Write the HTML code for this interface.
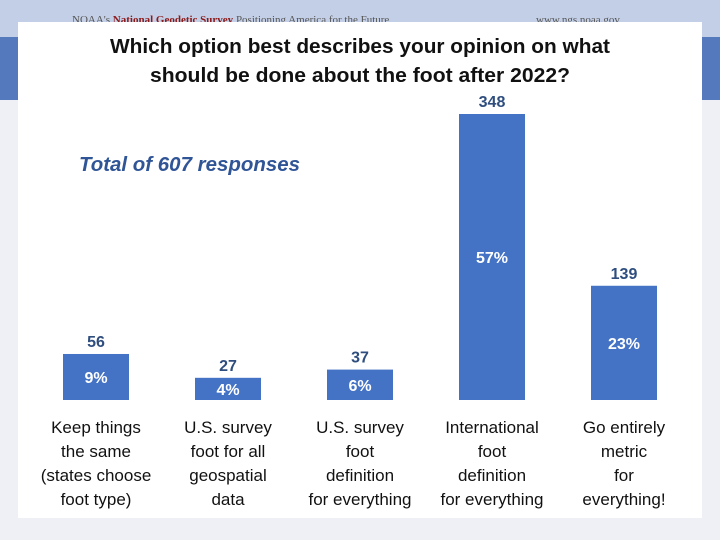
<!DOCTYPE html>
<html><head><meta charset="utf-8"><style>
html,body{margin:0;padding:0;width:720px;height:540px;overflow:hidden;background:#f3f4f6;font-family:"Liberation Sans",sans-serif;}
</style></head><body>
<svg id="chart" width="720" height="540" xmlns="http://www.w3.org/2000/svg">
  <rect x="0" y="0" width="720" height="37" fill="#c3cfe6"/>
  <rect x="0" y="37" width="720" height="63" fill="#5479bc"/>
  <rect x="0" y="100" width="720" height="440" fill="#eef0f5"/>
  <text x="72" y="23" font-family="Liberation Serif, serif" font-size="11" fill="#555">NOAA's <tspan fill="#8b1a1a" font-weight="bold">National Geodetic Survey</tspan> Positioning America for the Future</text>
  <text x="536" y="23" font-family="Liberation Serif, serif" font-size="11" fill="#555">www.ngs.noaa.gov</text>
  <rect x="18" y="22" width="684" height="496" fill="#ffffff"/>
  <text x="360" y="53" text-anchor="middle" font-size="20" font-weight="bold" fill="#111" textLength="500" lengthAdjust="spacingAndGlyphs">Which option best describes your opinion on what</text>
  <text x="360" y="82" text-anchor="middle" font-size="20" font-weight="bold" fill="#111" textLength="420" lengthAdjust="spacingAndGlyphs">should be done about the foot after 2022?</text>
  <text x="79" y="171" font-size="20" font-weight="bold" font-style="italic" fill="#2f5597" textLength="221" lengthAdjust="spacingAndGlyphs">Total of 607 responses</text>
  <g id="bars"></g>
  <g id="labels"></g>
</svg>
<script>
const categories = [
  ["Keep things","the same","(states choose","foot type)"],
  ["U.S. survey","foot for all","geospatial","data"],
  ["U.S. survey","foot","definition","for everything"],
  ["International","foot","definition","for everything"],
  ["Go entirely","metric","for","everything!"]
];
const counts = [56, 27, 37, 348, 139];
const percents = ["9%", "4%", "6%", "57%", "23%"];

const NS = "http://www.w3.org/2000/svg";
const baseY = 400, pxPerUnit = 286/348;
const x0 = 63, step = 132, barW = 66;
function xPos(i){ return x0 + i*step; }
function yPos(v){ return baseY - v*pxPerUnit; }
const gb = document.getElementById('bars');
const gl = document.getElementById('labels');
function txt(parent, x, y, s, size, weight, fill){
  const t = document.createElementNS(NS,'text');
  t.setAttribute('x', x); t.setAttribute('y', y);
  t.setAttribute('text-anchor','middle');
  t.setAttribute('font-size', size);
  if (weight) t.setAttribute('font-weight', weight);
  t.setAttribute('fill', fill);
  t.textContent = s;
  parent.appendChild(t);
  return t;
}
counts.forEach((v, i) => {
  const x = xPos(i), top = yPos(v), cx = x + barW/2;
  const r = document.createElementNS(NS,'rect');
  r.setAttribute('x', x); r.setAttribute('y', top);
  r.setAttribute('width', barW); r.setAttribute('height', baseY - top);
  r.setAttribute('fill', '#4472c4');
  
  
  gb.appendChild(r);
  const c = txt(gl, cx, top - 7, String(v), 16, 'bold', '#2f4e7e');
  
  
  const p = txt(gl, cx, (top + baseY)/2 + 6, percents[i], 16, 'bold', '#ffffff');
  
  
  categories[i].forEach((line, j) => {
    const t = txt(gl, cx, 433 + j*24, line, 17, null, '#111');
    
    
  });
});
</script>
</body></html>
